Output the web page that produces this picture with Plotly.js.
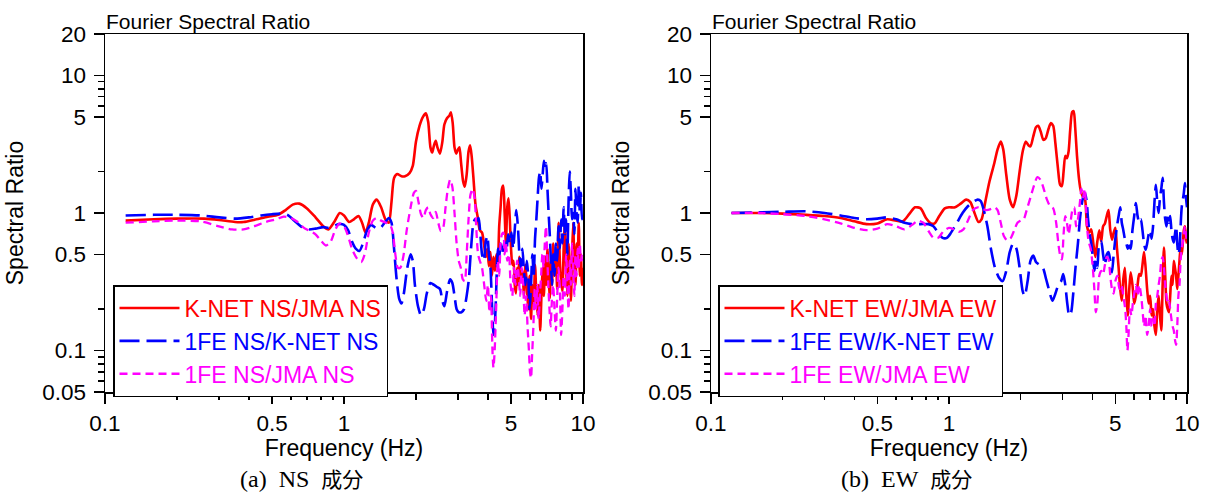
<!DOCTYPE html>
<html>
<head>
<meta charset="utf-8">
<script src="https://cdn.plot.ly/plotly-3.0.1.min.js"></script>
<style>html,body{margin:0;padding:0;background:#fff;}#chart{width:1212px;height:495px;}</style>
</head>
<body>
<div id="chart"></div>
<script>
// ---- Data: [frequency (Hz), spectral ratio] ----
const nsKnetJma = [[0.122,0.88],[0.16,0.9],[0.2,0.91],[0.26,0.91],[0.3,0.89],[0.35,0.86],[0.38,0.86],[0.43,0.9],[0.48,0.94],[0.53,0.97],[0.57,1.05],[0.61,1.15],[0.65,1.17],[0.7,1.08],[0.76,0.93],[0.82,0.8],[0.86,0.76],[0.91,0.86],[0.96,1.0],[1.0,0.96],[1.05,0.86],[1.1,0.9],[1.15,0.95],[1.19,0.85],[1.23,0.72],[1.27,0.85],[1.32,1.15],[1.37,1.25],[1.43,1.1],[1.49,0.9],[1.54,0.85],[1.58,1.2],[1.62,1.8],[1.67,1.92],[1.74,1.85],[1.8,1.85],[1.88,1.95],[1.94,2.2],[2.0,3.3],[2.07,4.3],[2.14,5.0],[2.2,5.3],[2.25,4.6],[2.3,3.0],[2.34,2.75],[2.38,3.1],[2.42,3.35],[2.46,3.0],[2.52,2.7],[2.58,3.3],[2.63,4.4],[2.7,4.9],[2.76,5.1],[2.8,5.4],[2.85,4.5],[2.9,3.0],[2.95,2.7],[3.0,2.9],[3.04,3.0],[3.09,2.3],[3.15,1.7],[3.2,1.55],[3.26,1.9],[3.32,2.8],[3.37,3.1],[3.42,2.6],[3.48,1.8],[3.55,1.15],[3.62,0.95],[3.7,0.75],[3.78,0.72],[3.85,0.6],[3.92,0.48],[3.98,0.55],[4.04,0.41],[4.1,0.52],[4.16,0.35],[4.22,0.48],[4.28,0.38],[4.34,0.5],[4.4,0.42],[4.46,0.8],[4.52,1.1],[4.58,1.5],[4.64,1.58],[4.7,1.0],[4.76,0.6],[4.82,1.1],[4.88,1.28],[4.94,0.9],[5.0,0.55],[5.06,0.42],[5.12,0.45],[5.18,0.3],[5.24,0.26],[5.3,0.4],[5.36,0.3],[5.42,0.48],[5.5,0.33],[5.58,0.38],[5.66,0.25],[5.74,0.42],[5.82,0.3],[5.9,0.2],[5.98,0.35],[6.06,0.17],[6.14,0.3],[6.22,0.22],[6.3,0.42],[6.38,0.25],[6.46,0.18],[6.54,0.3],[6.62,0.14],[6.7,0.25],[6.78,0.4],[6.86,0.25],[6.94,0.48],[7.02,0.3],[7.1,0.55],[7.18,0.35],[7.26,0.24],[7.34,0.45],[7.42,0.3],[7.5,0.6],[7.6,0.35],[7.7,0.5],[7.8,0.28],[7.9,0.85],[8.0,0.45],[8.1,0.32],[8.2,0.27],[8.3,0.55],[8.4,0.9],[8.5,0.4],[8.6,0.25],[8.7,0.6],[8.8,0.35],[8.9,0.23],[9.0,0.5],[9.1,0.85],[9.2,0.4],[9.3,0.3],[9.4,0.6],[9.5,0.45],[9.6,0.85],[9.7,0.35],[9.8,0.5],[9.9,0.3],[10,0.4]];

const ns1feKnet = [[0.122,0.96],[0.16,0.97],[0.2,0.97],[0.25,0.96],[0.3,0.93],[0.35,0.91],[0.4,0.93],[0.45,0.96],[0.5,0.98],[0.55,0.99],[0.58,0.97],[0.62,0.88],[0.66,0.8],[0.7,0.76],[0.76,0.77],[0.82,0.79],[0.86,0.78],[0.9,0.8],[0.95,0.83],[1.0,0.82],[1.04,0.75],[1.08,0.62],[1.12,0.55],[1.16,0.53],[1.2,0.6],[1.25,0.75],[1.3,0.82],[1.36,0.78],[1.42,0.78],[1.48,0.85],[1.54,0.92],[1.58,0.85],[1.62,0.55],[1.66,0.33],[1.7,0.24],[1.74,0.22],[1.78,0.26],[1.84,0.4],[1.9,0.5],[1.94,0.45],[1.98,0.3],[2.04,0.21],[2.1,0.18],[2.16,0.2],[2.22,0.26],[2.3,0.31],[2.38,0.3],[2.45,0.29],[2.52,0.28],[2.58,0.23],[2.63,0.21],[2.7,0.27],[2.78,0.33],[2.84,0.31],[2.9,0.25],[2.96,0.2],[3.02,0.19],[3.1,0.19],[3.18,0.2],[3.26,0.25],[3.33,0.33],[3.4,0.55],[3.47,0.82],[3.53,0.9],[3.6,0.88],[3.66,0.92],[3.72,0.7],[3.78,0.5],[3.85,0.45],[3.92,0.62],[3.98,0.68],[4.04,0.5],[4.1,0.4],[4.16,0.22],[4.22,0.13],[4.28,0.16],[4.34,0.3],[4.4,0.55],[4.46,0.48],[4.52,0.6],[4.58,0.5],[4.64,0.56],[4.7,0.62],[4.78,0.52],[4.86,0.7],[4.94,0.6],[5.02,0.72],[5.1,0.55],[5.18,0.75],[5.26,1.05],[5.34,0.8],[5.42,0.5],[5.5,0.4],[5.58,0.55],[5.66,0.38],[5.74,0.3],[5.82,0.45],[5.9,0.35],[5.98,0.2],[6.06,0.3],[6.14,0.5],[6.22,0.35],[6.3,0.65],[6.38,0.9],[6.46,1.3],[6.54,1.8],[6.62,2.0],[6.7,1.5],[6.78,1.9],[6.86,2.4],[6.94,2.1],[7.02,2.3],[7.1,1.5],[7.18,1.0],[7.26,0.7],[7.34,0.45],[7.42,0.3],[7.5,0.5],[7.6,0.35],[7.7,0.6],[7.8,0.45],[7.9,0.8],[8.0,0.55],[8.1,0.9],[8.2,0.6],[8.3,1.1],[8.4,0.7],[8.5,0.9],[8.6,0.5],[8.7,1.2],[8.8,2.0],[8.9,1.4],[9.0,0.9],[9.1,1.0],[9.2,0.7],[9.3,1.5],[9.4,1.0],[9.5,0.85],[9.6,1.6],[9.7,1.0],[9.8,1.4],[9.9,0.9],[10,1.0]];

const ns1feJma = [[0.122,0.85],[0.16,0.87],[0.2,0.88],[0.25,0.87],[0.3,0.8],[0.34,0.76],[0.38,0.76],[0.42,0.8],[0.47,0.86],[0.52,0.9],[0.56,0.94],[0.6,0.92],[0.64,0.86],[0.68,0.78],[0.72,0.74],[0.76,0.7],[0.8,0.63],[0.84,0.58],[0.88,0.62],[0.92,0.76],[0.96,0.84],[1.0,0.8],[1.04,0.68],[1.08,0.55],[1.13,0.47],[1.18,0.44],[1.22,0.5],[1.27,0.72],[1.32,0.88],[1.37,0.92],[1.43,0.88],[1.5,0.85],[1.56,0.82],[1.6,0.72],[1.64,0.5],[1.68,0.4],[1.72,0.4],[1.77,0.48],[1.83,0.75],[1.9,1.1],[1.96,1.4],[2.0,1.45],[2.05,1.2],[2.1,0.98],[2.15,0.92],[2.2,1.05],[2.25,1.1],[2.3,0.98],[2.36,0.92],[2.42,1.02],[2.48,0.85],[2.54,0.74],[2.6,0.78],[2.66,1.1],[2.72,1.5],[2.78,1.75],[2.84,1.55],[2.9,1.0],[2.96,0.6],[3.02,0.45],[3.08,0.4],[3.14,0.33],[3.2,0.32],[3.26,0.5],[3.32,0.9],[3.38,1.35],[3.45,1.5],[3.52,1.3],[3.58,0.75],[3.64,0.5],[3.7,0.45],[3.78,0.4],[3.86,0.3],[3.94,0.23],[4.0,0.3],[4.06,0.19],[4.12,0.25],[4.18,0.1],[4.22,0.075],[4.27,0.1],[4.33,0.2],[4.4,0.45],[4.46,0.35],[4.52,0.6],[4.58,0.7],[4.64,0.72],[4.7,0.5],[4.76,0.6],[4.82,0.45],[4.9,0.5],[4.98,0.3],[5.06,0.25],[5.14,0.4],[5.22,0.3],[5.3,0.45],[5.38,0.35],[5.46,0.25],[5.54,0.4],[5.62,0.3],[5.7,0.18],[5.78,0.25],[5.86,0.15],[5.94,0.1],[6.0,0.07],[6.06,0.063],[6.12,0.09],[6.2,0.15],[6.28,0.28],[6.36,0.2],[6.44,0.3],[6.52,0.17],[6.6,0.25],[6.68,0.35],[6.76,0.5],[6.84,0.4],[6.92,0.6],[7.0,0.8],[7.08,0.5],[7.16,0.3],[7.24,0.2],[7.32,0.15],[7.4,0.22],[7.5,0.3],[7.6,0.2],[7.7,0.14],[7.8,0.25],[7.9,0.4],[8.0,0.28],[8.1,0.13],[8.2,0.2],[8.3,0.35],[8.4,0.25],[8.5,0.5],[8.6,0.3],[8.7,0.2],[8.8,0.45],[8.9,0.3],[9.0,0.6],[9.1,0.4],[9.2,0.25],[9.3,0.5],[9.4,0.35],[9.5,0.55],[9.6,0.4],[9.7,0.6],[9.8,0.45],[9.9,0.5],[10,0.45]];

const ewKnetJma = [[0.122,1.0],[0.16,1.0],[0.2,0.99],[0.25,0.97],[0.3,0.95],[0.35,0.92],[0.4,0.87],[0.45,0.83],[0.5,0.84],[0.55,0.9],[0.6,0.88],[0.64,0.87],[0.68,0.98],[0.72,1.1],[0.76,1.08],[0.8,0.92],[0.84,0.84],[0.87,0.84],[0.91,0.95],[0.96,1.08],[1.0,1.1],[1.06,1.1],[1.12,1.17],[1.18,1.25],[1.23,1.2],[1.28,1.0],[1.33,0.86],[1.37,0.9],[1.42,1.2],[1.48,1.7],[1.55,2.3],[1.6,2.9],[1.65,3.3],[1.69,2.9],[1.74,1.9],[1.8,1.25],[1.86,1.1],[1.92,1.35],[1.98,2.0],[2.04,2.8],[2.1,3.3],[2.16,3.1],[2.2,3.05],[2.26,3.6],[2.32,4.2],[2.37,4.3],[2.43,3.9],[2.49,3.4],[2.55,3.5],[2.62,4.1],[2.68,4.5],[2.74,4.3],[2.8,3.2],[2.87,2.1],[2.93,1.6],[2.98,1.57],[3.03,2.0],[3.08,2.6],[3.13,2.5],[3.18,2.8],[3.23,4.0],[3.29,5.4],[3.34,5.5],[3.39,4.2],[3.45,2.6],[3.52,1.75],[3.58,1.45],[3.66,1.3],[3.73,1.25],[3.8,0.8],[3.88,0.72],[3.96,0.76],[4.04,0.6],[4.12,0.48],[4.2,0.62],[4.28,0.75],[4.36,0.62],[4.44,0.8],[4.52,0.84],[4.6,0.95],[4.68,1.05],[4.76,0.75],[4.84,0.64],[4.92,0.72],[5.0,0.78],[5.08,0.55],[5.16,0.4],[5.24,0.28],[5.32,0.23],[5.4,0.33],[5.48,0.4],[5.56,0.25],[5.64,0.18],[5.72,0.28],[5.8,0.37],[5.9,0.3],[6.0,0.22],[6.1,0.25],[6.2,0.3],[6.3,0.36],[6.4,0.35],[6.5,0.42],[6.6,0.52],[6.7,0.4],[6.8,0.28],[6.9,0.22],[7.0,0.25],[7.1,0.18],[7.2,0.2],[7.3,0.15],[7.4,0.13],[7.5,0.2],[7.6,0.25],[7.7,0.18],[7.8,0.14],[7.9,0.3],[8.0,0.56],[8.1,0.35],[8.2,0.22],[8.3,0.2],[8.4,0.19],[8.5,0.25],[8.6,0.35],[8.7,0.3],[8.8,0.45],[8.9,0.4],[9.0,0.35],[9.1,0.28],[9.2,0.35],[9.3,0.45],[9.4,0.56],[9.5,0.5],[9.6,0.6],[9.7,0.75],[9.8,0.8],[9.9,0.65],[10,0.6]];

const ew1feKnet = [[0.122,1.0],[0.16,1.01],[0.2,1.02],[0.25,1.03],[0.3,1.0],[0.35,0.96],[0.4,0.92],[0.45,0.9],[0.5,0.91],[0.55,0.93],[0.6,0.9],[0.65,0.85],[0.7,0.83],[0.76,0.83],[0.82,0.83],[0.86,0.8],[0.9,0.72],[0.94,0.66],[0.98,0.66],[1.02,0.72],[1.08,0.85],[1.14,1.0],[1.2,1.12],[1.26,1.2],[1.32,1.25],[1.36,1.22],[1.4,1.05],[1.45,0.8],[1.5,0.55],[1.56,0.4],[1.62,0.34],[1.68,0.32],[1.74,0.38],[1.8,0.52],[1.86,0.6],[1.92,0.55],[1.98,0.4],[2.04,0.27],[2.08,0.25],[2.14,0.32],[2.2,0.45],[2.26,0.49],[2.32,0.44],[2.4,0.42],[2.48,0.4],[2.56,0.33],[2.64,0.27],[2.72,0.23],[2.8,0.26],[2.88,0.3],[2.96,0.32],[3.02,0.36],[3.08,0.3],[3.14,0.22],[3.2,0.18],[3.26,0.19],[3.32,0.25],[3.4,0.4],[3.48,0.6],[3.56,0.95],[3.64,1.25],[3.72,1.4],[3.78,1.25],[3.84,0.9],[3.9,0.7],[3.96,0.6],[4.02,0.48],[4.08,0.38],[4.14,0.45],[4.2,0.4],[4.28,0.6],[4.36,0.62],[4.44,0.5],[4.52,0.42],[4.6,0.5],[4.68,0.52],[4.76,0.45],[4.84,0.37],[4.92,0.5],[5.0,0.65],[5.08,0.8],[5.16,0.95],[5.24,1.1],[5.32,0.85],[5.4,0.75],[5.48,0.65],[5.56,0.6],[5.64,0.55],[5.72,0.58],[5.8,0.55],[5.9,0.75],[6.0,0.95],[6.1,1.18],[6.2,0.95],[6.3,0.85],[6.4,0.9],[6.5,0.75],[6.6,0.6],[6.7,0.54],[6.8,0.6],[6.9,0.7],[7.0,0.75],[7.1,0.65],[7.2,0.8],[7.3,1.2],[7.4,1.6],[7.5,1.2],[7.6,1.0],[7.7,1.3],[7.8,1.5],[7.9,1.8],[8.0,1.2],[8.1,0.9],[8.2,0.8],[8.3,0.95],[8.4,0.85],[8.5,0.95],[8.6,0.75],[8.7,0.65],[8.8,0.61],[8.9,0.7],[9.0,0.8],[9.1,0.6],[9.2,0.5],[9.3,0.55],[9.4,0.8],[9.5,1.1],[9.6,1.24],[9.7,1.4],[9.8,1.65],[9.9,1.3],[10,1.1]];

const ew1feJma = [[0.122,1.0],[0.16,1.0],[0.2,0.98],[0.25,0.95],[0.3,0.9],[0.35,0.84],[0.4,0.78],[0.45,0.75],[0.5,0.77],[0.55,0.83],[0.6,0.8],[0.65,0.76],[0.7,0.82],[0.74,0.88],[0.78,0.85],[0.82,0.74],[0.86,0.66],[0.9,0.66],[0.95,0.74],[1.0,0.78],[1.05,0.76],[1.1,0.73],[1.15,0.76],[1.2,0.88],[1.26,1.05],[1.32,1.1],[1.38,1.07],[1.44,1.05],[1.5,1.07],[1.56,1.1],[1.6,1.05],[1.65,0.85],[1.7,0.68],[1.76,0.63],[1.82,0.66],[1.88,0.75],[1.94,0.85],[2.0,0.88],[2.06,0.9],[2.12,1.05],[2.2,1.3],[2.28,1.6],[2.35,1.82],[2.42,1.75],[2.5,1.5],[2.58,1.25],[2.66,1.12],[2.74,1.08],[2.82,0.85],[2.88,0.6],[2.94,0.48],[2.98,0.46],[3.03,0.7],[3.08,0.95],[3.13,0.85],[3.18,0.7],[3.24,0.85],[3.3,1.05],[3.36,1.1],[3.42,0.8],[3.48,0.9],[3.55,1.2],[3.6,1.5],[3.66,1.3],[3.72,1.5],[3.8,0.8],[3.86,0.62],[3.94,0.55],[4.02,0.4],[4.08,0.28],[4.14,0.19],[4.2,0.22],[4.28,0.35],[4.36,0.38],[4.44,0.36],[4.52,0.42],[4.6,0.48],[4.68,0.46],[4.76,0.35],[4.84,0.28],[4.92,0.26],[5.0,0.32],[5.1,0.35],[5.2,0.28],[5.3,0.3],[5.4,0.25],[5.5,0.2],[5.56,0.15],[5.62,0.1],[5.68,0.13],[5.76,0.2],[5.84,0.18],[5.92,0.22],[6.0,0.26],[6.1,0.3],[6.2,0.25],[6.3,0.3],[6.4,0.26],[6.5,0.2],[6.6,0.15],[6.7,0.18],[6.8,0.13],[6.9,0.15],[7.0,0.2],[7.1,0.15],[7.2,0.17],[7.3,0.15],[7.4,0.22],[7.5,0.25],[7.6,0.3],[7.7,0.35],[7.8,0.45],[7.9,0.48],[8.0,0.4],[8.1,0.3],[8.2,0.25],[8.3,0.22],[8.4,0.23],[8.5,0.2],[8.6,0.17],[8.7,0.15],[8.8,0.14],[8.9,0.12],[9.0,0.11],[9.1,0.15],[9.2,0.25],[9.3,0.3],[9.4,0.45],[9.5,0.55],[9.6,0.61],[9.7,0.7],[9.8,0.8],[9.9,0.7],[10,0.6]];

// ---- Labels / ticks ----
const seriesNamesNS = ['K-NET NS/JMA NS', '1FE NS/K-NET NS', '1FE NS/JMA NS'];
const seriesNamesEW = ['K-NET EW/JMA EW', '1FE EW/K-NET EW', '1FE EW/JMA EW'];
const xTickVals = [0.1, 0.5, 1, 5, 10];
const xTickText = ['0.1', '0.5', '1', '5', '10'];
const xMinorVals = [0.2, 0.3, 0.4, 0.6, 0.7, 0.8, 0.9, 2, 3, 4, 6, 7, 8, 9];
const yTickVals = [0.05, 0.1, 0.5, 1, 5, 10, 20];
const yTickText = ['0.05', '0.1', '0.5', '1', '5', '10', '20'];
const yMinorVals = [0.06, 0.07, 0.08, 0.09, 0.2, 2, 6, 7, 8, 9];
const panelTitle = 'Fourier Spectral Ratio';
const xTitle = 'Frequency (Hz)';
const yTitle = 'Spectral Ratio';
const captionLabels = ['(a)', '(b)'];
const captionComps = ['NS', 'EW'];
const captionSuffix = '成分';

// ---- Styling ----
const FONT = 'Liberation Sans, Arial, sans-serif';
const FS_TICK = 22.5;
const FS_TITLE = 23;
const FS_LEG = 23;
const FS_HEAD = 21;
const colors = ['#ff0000', '#0000ff', '#ff00ff'];
const dashes = ['solid', '20px,7px', '8px,5px'];
const widths = [2.6, 2.6, 2.3];

function mk(data, i, name, xa, ya, leg) {
  return {
    type: 'scatter', mode: 'lines',
    x: data.map(d => d[0]), y: data.map(d => d[1]),
    xaxis: xa, yaxis: ya, legend: leg,
    name: '<span style="color:' + colors[i] + '">' + name + '</span>',
    line: {color: colors[i], width: widths[i], dash: dashes[i], shape: 'spline', smoothing: 0.7},
    hoverinfo: 'skip'
  };
}

const traces = [
  mk(nsKnetJma, 0, seriesNamesNS[0], 'x', 'y', 'legend'),
  mk(ns1feKnet, 1, seriesNamesNS[1], 'x', 'y', 'legend'),
  mk(ns1feJma, 2, seriesNamesNS[2], 'x', 'y', 'legend'),
  mk(ewKnetJma, 0, seriesNamesEW[0], 'x2', 'y2', 'legend2'),
  mk(ew1feKnet, 1, seriesNamesEW[1], 'x2', 'y2', 'legend2'),
  mk(ew1feJma, 2, seriesNamesEW[2], 'x2', 'y2', 'legend2')
];

const W = 1212, H = 495;
const ydom = [(H - 392) / H, (H - 34) / H];

function xAxis(dom, anchor) {
  return {
    domain: dom, anchor: anchor, type: 'log', range: [-1, 1],
    tickmode: 'array', tickvals: xTickVals, ticktext: xTickText,
    ticks: 'outside', ticklen: 10, tickwidth: 1.5, tickcolor: '#000',
    minor: {tickmode: 'array', tickvals: xMinorVals, ticks: 'outside', ticklen: 6, tickwidth: 1.5, tickcolor: '#000', showgrid: false},
    showline: true, linecolor: '#000', linewidth: 1.5, mirror: true,
    showgrid: false, zeroline: false,
    tickfont: {family: FONT, size: FS_TICK, color: '#000'},
    title: {text: xTitle, font: {family: FONT, size: FS_TITLE, color: '#000'}, standoff: 2},
    automargin: false, fixedrange: true
  };
}
function yAxis(anchor) {
  return {
    domain: ydom, anchor: anchor, type: 'log', range: [Math.log10(0.05), Math.log10(20)],
    tickmode: 'array', tickvals: yTickVals, ticktext: yTickText,
    ticks: 'outside', ticklen: 10, tickwidth: 1.5, tickcolor: '#000',
    ticklabelstandoff: 3,
    minor: {tickmode: 'array', tickvals: yMinorVals, ticks: 'outside', ticklen: 6, tickwidth: 1.5, tickcolor: '#000', showgrid: false},
    showline: true, linecolor: '#000', linewidth: 1.5, mirror: true,
    showgrid: false, zeroline: false,
    tickfont: {family: FONT, size: FS_TICK, color: '#000'},
    title: {text: yTitle, font: {family: FONT, size: FS_TITLE, color: '#000'}, standoff: 12},
    automargin: false, fixedrange: true
  };
}
function legendCfg(xpx) {
  return {
    x: xpx / W, y: (H - 285) / H, xanchor: 'left', yanchor: 'top',
    bgcolor: '#fff', bordercolor: '#000', borderwidth: 1.5,
    font: {family: FONT, size: FS_LEG, color: '#000'},
    itemwidth: 60, tracegroupgap: 0, traceorder: 'normal'
  };
}
function caption(i) {
  return '<span style="font-family:Liberation Serif;font-size:24px">' + captionLabels[i] +
    '\u00a0\u00a0' + captionComps[i] + '\u00a0\u00a0</span>' + captionSuffix;
}

const layout = {
  width: W, height: H,
  margin: {l: 0, r: 0, t: 0, b: 0},
  paper_bgcolor: '#fff', plot_bgcolor: '#fff',
  showlegend: true,
  xaxis: xAxis([105 / W, 583 / W], 'y'),
  yaxis: yAxis('x'),
  xaxis2: xAxis([711 / W, 1187 / W], 'y2'),
  yaxis2: yAxis('x2'),
  legend: legendCfg(113),
  legend2: legendCfg(718),
  annotations: [
    {xref: 'paper', yref: 'paper', x: 104 / W, y: (H - 21) / H, xanchor: 'left', yanchor: 'middle', text: panelTitle, showarrow: false, font: {family: FONT, size: FS_HEAD, color: '#000'}},
    {xref: 'paper', yref: 'paper', x: 710 / W, y: (H - 21) / H, xanchor: 'left', yanchor: 'middle', text: panelTitle, showarrow: false, font: {family: FONT, size: FS_HEAD, color: '#000'}},
    {xref: 'paper', yref: 'paper', x: 0.249, y: (H - 478) / H, xanchor: 'center', yanchor: 'middle', text: caption(0), showarrow: false, font: {family: 'Noto Sans CJK JP, serif', size: 21, color: '#000'}},
    {xref: 'paper', yref: 'paper', x: 0.748, y: (H - 478) / H, xanchor: 'center', yanchor: 'middle', text: caption(1), showarrow: false, font: {family: 'Noto Sans CJK JP, serif', size: 21, color: '#000'}}
  ]
};

Plotly.newPlot('chart', traces, layout, {staticPlot: true, displayModeBar: false});
</script>
</body>
</html>
